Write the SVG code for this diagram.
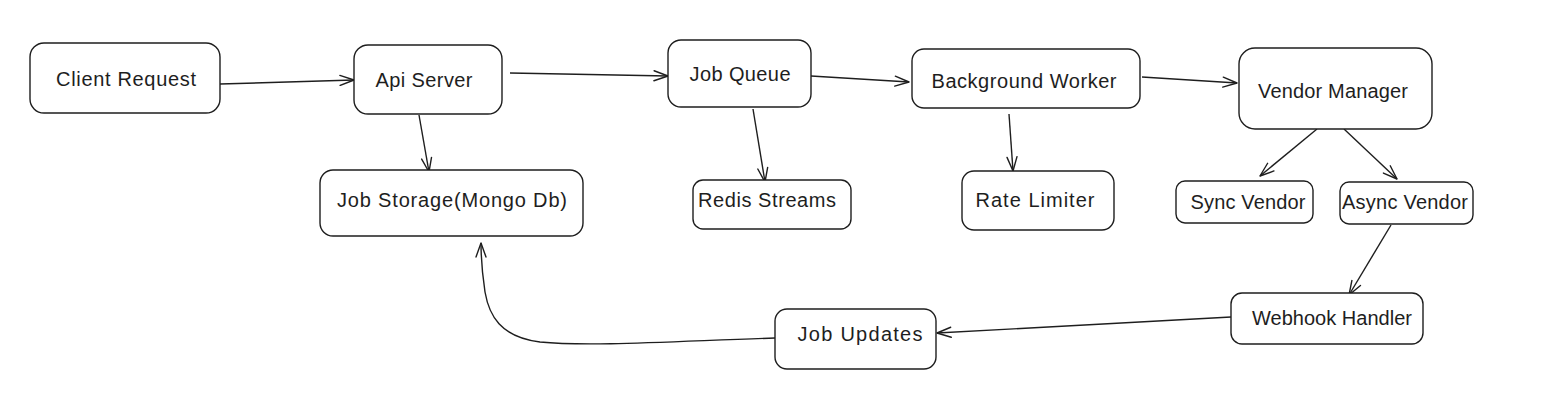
<svg xmlns="http://www.w3.org/2000/svg" width="1556" height="402" viewBox="0 0 1556 402">
<style>
.box{fill:#ffffff;stroke:#1e1e1e;stroke-width:1.4}
.lbl{font-family:"Liberation Sans",Arial,sans-serif;font-size:20px;fill:#1e1e1e;text-anchor:middle;dominant-baseline:central}
.edge{fill:none;stroke:#1e1e1e;stroke-width:1.4}
</style>
<defs>
<marker id="ah" markerUnits="userSpaceOnUse" viewBox="0 0 16 12" markerWidth="16" markerHeight="12" refX="15" refY="6" orient="auto">
<path d="M1,1 L15,6 L1,11" fill="none" stroke="#1e1e1e" stroke-width="1.4" stroke-linecap="round" stroke-linejoin="round"/>
</marker>
</defs>
<rect width="1556" height="402" fill="#ffffff"/>
<g id="connectors">
<path class="edge" marker-end="url(#ah)" d="M220,84 L354,80"/>
<path class="edge" marker-end="url(#ah)" d="M510,73 L668,76"/>
<path class="edge" marker-end="url(#ah)" d="M419,115 L429,172"/>
<path class="edge" marker-end="url(#ah)" d="M753,109 L765,182"/>
<path class="edge" marker-end="url(#ah)" d="M811,76 L909,82"/>
<path class="edge" marker-end="url(#ah)" d="M1009,114 L1013,171"/>
<path class="edge" marker-end="url(#ah)" d="M1142,77 L1237,83"/>
<path class="edge" marker-end="url(#ah)" d="M1317,129 L1260,176"/>
<path class="edge" marker-end="url(#ah)" d="M1344,129 L1397,179"/>
<path class="edge" marker-end="url(#ah)" d="M1391,225 L1349,295"/>
<path class="edge" marker-end="url(#ah)" d="M1231,317 L937,333"/>
<path class="edge" marker-end="url(#ah)" d="M775,338 C680,341 590,347 540,342 C500,337 489,315 485,292 C482,272 481,260 481,243"/>
</g>
<g id="client-request"><rect class="box" x="30" y="43" width="190" height="70" rx="14"/><text class="lbl" x="126" y="79" textLength="140">Client Request</text></g>
<g id="api-server"><rect class="box" x="354" y="45" width="148" height="69" rx="14"/><text class="lbl" x="424" y="80" textLength="97">Api Server</text></g>
<g id="job-storage"><rect class="box" x="320" y="170" width="263" height="66" rx="13"/><text class="lbl" x="452" y="200" textLength="230">Job Storage(Mongo Db)</text></g>
<g id="job-queue"><rect class="box" x="668" y="40" width="143" height="67" rx="13"/><text class="lbl" x="740" y="74" textLength="101">Job Queue</text></g>
<g id="background-worker"><rect class="box" x="912" y="49" width="228" height="59" rx="12"/><text class="lbl" x="1024" y="81" textLength="185">Background Worker</text></g>
<g id="redis-streams"><rect class="box" x="693" y="180" width="158" height="49" rx="10"/><text class="lbl" x="767" y="200" textLength="138">Redis Streams</text></g>
<g id="rate-limiter"><rect class="box" x="962" y="171" width="152" height="59" rx="12"/><text class="lbl" x="1035" y="200" textLength="119">Rate Limiter</text></g>
<g id="vendor-manager"><rect class="box" x="1239" y="48" width="193" height="81" rx="16"/><text class="lbl" x="1333" y="91" textLength="150">Vendor Manager</text></g>
<g id="sync-vendor"><rect class="box" x="1176" y="181" width="137" height="42" rx="9"/><text class="lbl" x="1248" y="202" textLength="115">Sync Vendor</text></g>
<g id="async-vendor"><rect class="box" x="1340" y="182" width="133" height="42" rx="9"/><text class="lbl" x="1405" y="202" textLength="126">Async Vendor</text></g>
<g id="webhook-handler"><rect class="box" x="1231" y="293" width="192" height="51" rx="11"/><text class="lbl" x="1332" y="318" textLength="160">Webhook Handler</text></g>
<g id="job-updates"><rect class="box" x="775" y="309" width="161" height="60" rx="12"/><text class="lbl" x="860" y="334" textLength="125">Job Updates</text></g>
</svg>
